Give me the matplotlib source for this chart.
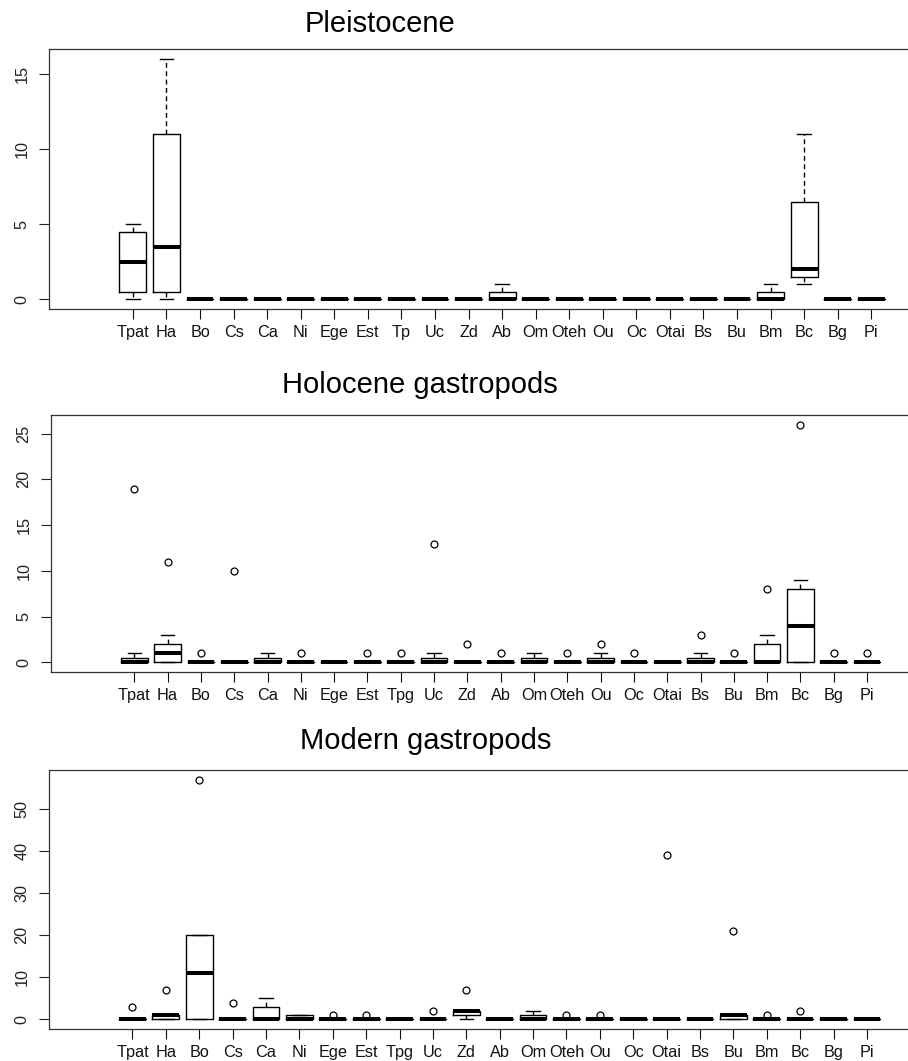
import matplotlib
matplotlib.use("Agg")
import matplotlib.pyplot as plt

plt.rcParams['font.family'] = ['Liberation Sans', 'DejaVu Sans']

# ---------------- data ----------------
labels_pleist = ["Tpat", "Ha", "Bo", "Cs", "Ca", "Ni", "Ege", "Est", "Tp", "Uc", "Zd", "Ab",
                 "Om", "Oteh", "Ou", "Oc", "Otai", "Bs", "Bu", "Bm", "Bc", "Bg", "Pi"]
labels_holo = ["Tpat", "Ha", "Bo", "Cs", "Ca", "Ni", "Ege", "Est", "Tpg", "Uc", "Zd", "Ab",
               "Om", "Oteh", "Ou", "Oc", "Otai", "Bs", "Bu", "Bm", "Bc", "Bg", "Pi"]
labels_mod = list(labels_holo)

# Pleistocene
pl_q1  = [0.5, 0.5, 0, 0, 0, 0, 0, 0, 0, 0, 0, 0, 0, 0, 0, 0, 0, 0, 0, 0, 1.5, 0, 0]
pl_med = [2.5, 3.5, 0, 0, 0, 0, 0, 0, 0, 0, 0, 0, 0, 0, 0, 0, 0, 0, 0, 0, 2, 0, 0]
pl_q3  = [4.5, 11, 0, 0, 0, 0, 0, 0, 0, 0, 0, 0.5, 0, 0, 0, 0, 0, 0, 0, 0.5, 6.5, 0, 0]
pl_lo  = [0, 0, 0, 0, 0, 0, 0, 0, 0, 0, 0, 0, 0, 0, 0, 0, 0, 0, 0, 0, 1, 0, 0]
pl_hi  = [5, 16, 0, 0, 0, 0, 0, 0, 0, 0, 0, 1, 0, 0, 0, 0, 0, 0, 0, 1, 11, 0, 0]
pl_out = [[] for _ in range(23)]

# Holocene gastropods
ho_q1  = [0] * 23
ho_med = [0, 1, 0, 0, 0, 0, 0, 0, 0, 0, 0, 0, 0, 0, 0, 0, 0, 0, 0, 0, 4, 0, 0]
ho_q3  = [0.5, 2, 0, 0, 0.5, 0, 0, 0, 0, 0.5, 0, 0, 0.5, 0, 0.5, 0, 0, 0.5, 0, 2, 8, 0, 0]
ho_lo  = [0] * 23
ho_hi  = [1, 3, 0, 0, 1, 0, 0, 0, 0, 1, 0, 0, 1, 0, 1, 0, 0, 1, 0, 3, 9, 0, 0]
ho_out = [[19], [11], [1], [10], [], [1], [], [1], [1], [13], [2], [1],
          [], [1], [2], [1], [], [3], [1], [8], [26], [1], [1]]

# Modern gastropods
mo_q1  = [0, 0, 0, 0, 0, 0, 0, 0, 0, 0, 1, 0, 0, 0, 0, 0, 0, 0, 0, 0, 0, 0, 0]
mo_med = [0, 1, 11, 0, 0, 0, 0, 0, 0, 0, 2, 0, 0, 0, 0, 0, 0, 0, 1, 0, 0, 0, 0]
mo_q3  = [0, 1, 20, 0, 3, 1, 0, 0, 0, 0, 2, 0, 1, 0, 0, 0, 0, 0, 1, 0, 0, 0, 0]
mo_lo  = [0] * 23
mo_hi  = [0, 1, 20, 0, 5, 1, 0, 0, 0, 0, 2, 0, 2, 0, 0, 0, 0, 0, 1, 0, 0, 0, 0]
mo_out = [[3], [7], [57], [4], [], [], [1], [1], [], [2], [7], [],
          [], [1], [1], [], [39], [], [21], [1], [2], [], []]

# ---------------- figure ----------------
W, H = 908, 1061
fig = plt.figure(figsize=(W / 100, H / 100), dpi=100)

def fbox(left, right, top, bottom):
    return [left / W, 1 - bottom / H, (right - left) / W, (bottom - top) / H]

def panel(rect, labels, q1, med, q3, lo, hi, out, ylim, yticks, xlim):
    ax = fig.add_axes(rect)
    stats = []
    for i in range(len(labels)):
        stats.append(dict(q1=q1[i], med=med[i], q3=q3[i], whislo=lo[i],
                          whishi=hi[i], fliers=out[i], label=labels[i]))
    pos = list(range(1, len(labels) + 1))
    ax.bxp(stats, positions=pos, widths=0.8, capwidths=0.4, showfliers=True,
           boxprops=dict(color='black', linewidth=1.0),
           medianprops=dict(color='black', linewidth=2.9, solid_capstyle='butt'),
           whiskerprops=dict(color='black', linewidth=1.0, linestyle=(0, (3.5, 2.5))),
           capprops=dict(color='black', linewidth=1.0),
           flierprops=dict(marker='o', markersize=5, markerfacecolor='none',
                           markeredgecolor='black', markeredgewidth=0.9, linestyle='none'))
    ax.set_xlim(*xlim)
    ax.set_ylim(*ylim)
    ax.set_yticks(yticks)
    ax.set_yticklabels([str(t) for t in yticks], rotation=90, va='center')
    ax.set_xticks(pos)
    ax.set_xticklabels(labels)
    ax.tick_params(axis='x', length=7.2, width=0.8, pad=4, labelsize=11.7, colors='#111')
    ax.tick_params(axis='y', length=7.2, width=0.8, pad=7, labelsize=11.7, colors='#222')
    for s in ax.spines.values():
        s.set_linewidth(0.9)
        s.set_color('#333')
    ax.spines['right'].set_visible(False)
    return ax

panel(fbox(49, 930, 49, 309), labels_pleist, pl_q1, pl_med, pl_q3, pl_lo, pl_hi, pl_out,
      (-0.64, 16.64), [0, 5, 10, 15], (-1.5, 24.75))
panel(fbox(51, 930, 415, 672), labels_holo, ho_q1, ho_med, ho_q3, ho_lo, ho_hi, ho_out,
      (-1.04, 27.04), [0, 5, 10, 15, 20, 25], (-1.5, 24.89))
panel(fbox(49, 930, 770, 1029), labels_mod, mo_q1, mo_med, mo_q3, mo_lo, mo_hi, mo_out,
      (-2.28, 59.28), [0, 10, 20, 30, 40, 50], (-1.5, 24.89))

fig.text(305 / W, 1 - 32 / H, "Pleistocene", fontsize=21, ha='left', va='baseline')
fig.text(282 / W, 1 - 393 / H, "Holocene gastropods", fontsize=21, ha='left', va='baseline')
fig.text(300 / W, 1 - 749 / H, "Modern gastropods", fontsize=21, ha='left', va='baseline')

fig.savefig("out.png", dpi=100)
